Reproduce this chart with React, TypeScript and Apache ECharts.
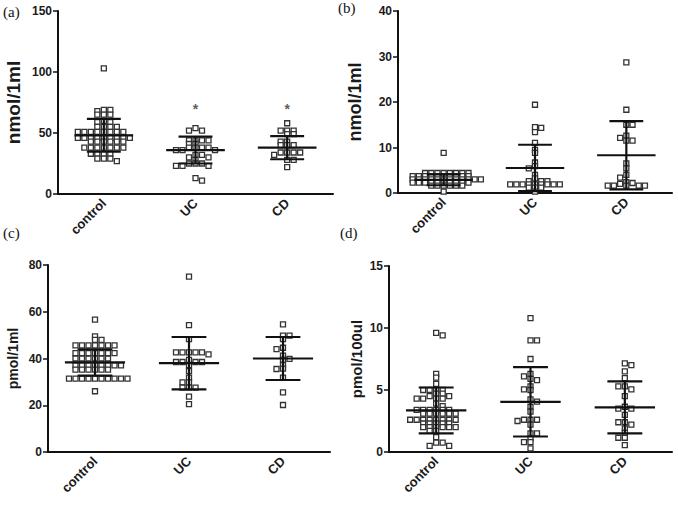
import React, { useEffect, useRef } from "react";
import * as echarts from "echarts";

const categories = ["control", "UC", "CD"];

// Panel (a) nmol/1ml
const aControl = [103, 69, 69, 68, 65, 65, 65, 60, 59, 59, 55, 55, 55, 55, 51, 51, 51, 51, 51, 51, 51, 51, 46, 46, 46, 46, 46, 46, 46, 46, 46, 43, 43, 43, 43, 43, 43, 38, 38, 38, 38, 38, 38, 38, 33, 33, 33, 33, 29, 29, 29, 27];
const aUC = [54, 52, 52, 44, 44, 44, 44, 41, 41, 38, 38, 38, 38, 36, 36, 36, 32, 32, 30, 30, 28, 25, 25, 25, 23, 23, 23, 13, 11];
const aCD = [58, 52, 52, 52, 49, 49, 43, 43, 40, 40, 40, 34, 34, 34, 34, 32, 28, 28, 22];
const aMean = [48.1, 36, 38];
const aSD = [13.4, 11, 9.5];
const aStars = [null, 70, 70];

// Panel (b) nmol/1ml
const bControl = [8.8, 4.4, 4.4, 4.4, 4.4, 4.4, 4.4, 4.4, 4.4, 3.7, 3.7, 3.7, 3.7, 3.7, 3.7, 3.7, 3.7, 3.7, 3.7, 3.0, 3.0, 3.0, 3.0, 3.0, 3.0, 3.0, 3.0, 3.0, 3.0, 3.0, 3.0, 2.3, 2.3, 2.3, 2.3, 2.3, 2.3, 2.3, 2.3, 2.3, 2.3, 1.6, 1.6, 1.6, 1.6, 1.6, 1.6, 0.3];
const bUC = [19.4, 14.5, 14.3, 13.4, 11.0, 9.5, 8.8, 6.7, 5.9, 5.4, 4.0, 3.2, 2.6, 2.6, 2.6, 1.9, 1.9, 1.9, 1.9, 1.9, 1.9, 1.9, 1.9, 1.9, 1.2, 1.2, 1.2, 0.3];
const bCD = [28.7, 18.3, 15.0, 15.0, 12.6, 12.1, 11.5, 11.5, 6.5, 5.4, 4.0, 3.4, 2.4, 2.2, 2.0, 1.6, 1.6, 1.6, 1.6, 1.6];
const bMean = [2.9, 5.5, 8.3];
const bSD = [1.2, 5.1, 7.5];

// Panel (c) pmol/1ml
const cControl = [56.6, 49.5, 48, 48, 45.6, 45.6, 45.6, 45.6, 45.6, 45.6, 45.6, 42.3, 42.3, 42.3, 42.3, 42.3, 42.3, 42.3, 40, 40, 40, 40, 40, 40, 37.1, 37.1, 37.1, 37.1, 37.1, 37.1, 37.1, 37.1, 35.2, 35.2, 35.2, 35.2, 35.2, 35.2, 31.4, 31.4, 31.4, 31.4, 31.4, 31.4, 31.4, 31.4, 31.4, 31.4, 26];
const cUC = [75, 54.3, 48.3, 42.6, 42.6, 42.6, 42.6, 42.6, 41.8, 39.4, 38.5, 38.5, 38.5, 38.5, 37.2, 34.6, 31.8, 29.8, 29.8, 27.5, 27.5, 27.5, 23.7, 20.5];
const cCD = [54.6, 49.8, 49.8, 48.3, 44.6, 44, 41.2, 39.8, 39.5, 37.2, 35.7, 35.5, 31.8, 25.5, 20.1];
const cMean = [38.3, 38, 40];
const cSD = [5.6, 11.2, 9.2];

// Panel (d) pmol/100ul
const dControl = [9.6, 9.4, 6.3, 6.0, 5.5, 5.0, 5.0, 5.0, 5.0, 4.7, 4.7, 4.5, 4.5, 4.3, 4.3, 4.3, 4.3, 3.9, 3.7, 3.4, 3.4, 3.4, 3.4, 3.4, 3.4, 3.1, 3.1, 3.1, 3.1, 3.1, 3.1, 2.6, 2.6, 2.6, 2.6, 2.6, 2.6, 2.6, 2.6, 2.3, 2.3, 2.3, 2.3, 2.3, 2.0, 2.0, 2.0, 2.0, 2.0, 2.0, 1.7, 1.7, 1.2, 0.75, 0.75, 0.5, 0.5];
const dUC = [10.8, 9.0, 9.0, 7.5, 6.3, 6.1, 5.9, 5.8, 5.3, 5.05, 5.0, 4.25, 4.06, 3.65, 3.25, 2.6, 2.6, 2.6, 2.5, 2.2, 1.5, 1.5, 1.1, 0.8, 0.8, 0.3];
const dCD = [7.15, 7.0, 6.5, 5.95, 5.3, 5.3, 5.05, 4.5, 3.65, 3.5, 3.5, 3.0, 2.4, 2.4, 2.2, 1.9, 1.55, 1.15, 1.15, 0.55];
const dMean = [3.35, 4.05, 3.6];
const dSD = [1.85, 2.8, 2.1];

const panelLabels = ["(a)", "(b)", "(c)", "(d)"];
const yNames = ["nmol/1ml", "nmol/1ml", "pmol/1ml", "pmol/100ul"];
const yMax = [150, 40, 80, 15];
const yInterval = [50, 10, 20, 5];

const groups = [
  [aControl, aUC, aCD],
  [bControl, bUC, bCD],
  [cControl, cUC, cCD],
  [dControl, dUC, dCD],
];
const means = [aMean, bMean, cMean, dMean];
const sds = [aSD, bSD, cSD, dSD];

// layout
const grids = [
  { left: 58, top: 11, width: 275, height: 183 },
  { left: 398, top: 11, width: 274, height: 182 },
  { left: 48, top: 265, width: 282, height: 187 },
  { left: 389, top: 266, width: 283, height: 186 },
];
const nameGaps = [35, 34, 28, 25];
const nameSizes = [19, 18, 14, 15];
const swarmStep = [
  [6.5, 3.5],
  [6.2, 3.0],
  [6.5, 3.5],
  [6.5, 3.5],
];
const labelPos = [
  { left: 3, top: 4 },
  { left: 338, top: 0 },
  { left: 3, top: 225 },
  { left: 340, top: 225 },
];

// beeswarm layout: offsets computed from the values themselves
function swarm(values: number[], idx: number, pxPerUnit: number, catPx: number, sx: number, sy: number) {
  const placed: { x: number; y: number }[] = [];
  const sorted = values.slice().sort((a, b) => b - a);
  const out: number[][] = [];
  let flip = 1;
  for (const v of sorted) {
    const y = v * pxPerUnit;
    const near = placed.filter((p) => Math.abs(p.y - y) < sy - 1e-6);
    const cands = [0];
    near.forEach((p) => cands.push(p.x + sx, p.x - sx));
    cands.sort((a, b) => Math.abs(a) - Math.abs(b) || flip * (b - a));
    let chosen = 0;
    for (const c of cands) {
      if (near.every((p) => Math.abs(p.x - c) >= sx - 1e-6)) {
        chosen = c;
        break;
      }
    }
    if (chosen !== 0) flip = -flip;
    placed.push({ x: chosen, y });
    out.push([idx + chosen / catPx, v]);
  }
  return out;
}

const font = "Liberation Sans";
const ink = "#1a1a1a";

function buildOption() {
  const xAxis: any[] = [];
  const yAxis: any[] = [];
  const series: any[] = [];
  grids.forEach((g, p) => {
    xAxis.push({
      type: "category",
      gridIndex: p,
      data: categories,
      boundaryGap: true,
      axisLine: { lineStyle: { color: "#111", width: 2 } },
      axisTick: { alignWithLabel: true, length: 5, lineStyle: { color: "#111", width: 1.5 } },
      axisLabel: { rotate: 45, fontWeight: "bold", fontSize: 13, color: ink, fontFamily: font, margin: 7 },
    });
    xAxis.push({ type: "value", gridIndex: p, min: -0.5, max: 2.5, show: false });
    yAxis.push({
      type: "value",
      gridIndex: p,
      min: 0,
      max: yMax[p],
      interval: yInterval[p],
      name: yNames[p],
      nameLocation: "middle",
      nameGap: nameGaps[p],
      nameTextStyle: { fontWeight: "bold", fontSize: nameSizes[p], color: ink, fontFamily: font },
      axisLine: { show: true, onZero: false, lineStyle: { color: "#111", width: 2 } },
      axisTick: { show: true, length: 5, lineStyle: { color: "#111", width: 1.5 } },
      axisLabel: { fontWeight: "bold", fontSize: 12, color: ink, fontFamily: font, margin: 6 },
      splitLine: { show: false },
    });
    const pxPerUnit = g.height / yMax[p];
    const catPx = g.width / 3;
    groups[p].forEach((vals, i) => {
      const [sx, sy] = swarmStep[p];
      series.push({
        type: "scatter",
        xAxisIndex: 2 * p + 1,
        yAxisIndex: p,
        symbol: "rect",
        symbolSize: 5,
        itemStyle: { color: "#fff", borderColor: "#333", borderWidth: 1.3, opacity: 1 },
        data: swarm(vals, i, pxPerUnit, catPx, sx, sy),
      });
    });
    series.push({
      type: "custom",
      xAxisIndex: 2 * p + 1,
      yAxisIndex: p,
      data: means[p].map((m, i) => [i, m, sds[p][i]]),
      renderItem: (params: any, api: any) => {
        const i = api.value(0);
        const m = api.value(1);
        const s = api.value(2);
        const c = api.coord([i, m]);
        const hi = api.coord([i, m + s]);
        const lo = api.coord([i, Math.max(0, m - s)]);
        const wM = api.size([0.32, 0])[0];
        const wS = api.size([0.185, 0])[0];
        const st = { stroke: "#111", lineWidth: 2.2 };
        return {
          type: "group",
          children: [
            { type: "line", shape: { x1: hi[0], y1: hi[1], x2: lo[0], y2: lo[1] }, style: st },
            { type: "line", shape: { x1: c[0] - wM, y1: c[1], x2: c[0] + wM, y2: c[1] }, style: st },
            { type: "line", shape: { x1: hi[0] - wS, y1: hi[1], x2: hi[0] + wS, y2: hi[1] }, style: st },
            { type: "line", shape: { x1: lo[0] - wS, y1: lo[1], x2: lo[0] + wS, y2: lo[1] }, style: st },
          ],
        };
      },
      z: 5,
    });
  });
  series.push({
    type: "scatter",
    xAxisIndex: 1,
    yAxisIndex: 0,
    symbol: "circle",
    symbolSize: 2,
    itemStyle: { color: "rgba(0,0,0,0)" },
    label: { show: true, position: "inside", formatter: "*", fontSize: 14, fontWeight: "bold", color: "#333", fontFamily: font },
    data: aStars.map((v, i) => (v == null ? null : [i, v])).filter((d) => d !== null),
    z: 6,
  });
  return {
    animation: false,
    backgroundColor: "#fff",
    grid: grids,
    xAxis,
    yAxis,
    series,
    graphic: panelLabels.map((t, p) => ({
      type: "text",
      left: labelPos[p].left,
      top: labelPos[p].top,
      style: { text: t, fontSize: 15, fontFamily: "Liberation Serif", fill: "#111" },
    })),
  };
}

export default function App() {
  const ref = useRef<HTMLDivElement>(null);
  useEffect(() => {
    document.body.style.margin = "0";
    const chart = echarts.init(ref.current!, undefined, { renderer: "svg" });
    chart.setOption(buildOption() as any);
    return () => chart.dispose();
  }, []);
  return <div ref={ref} style={{ width: 678, height: 505 }} />;
}
